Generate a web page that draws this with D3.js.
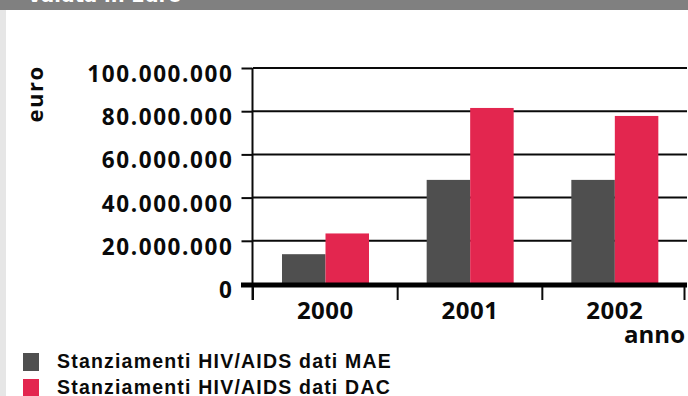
<!DOCTYPE html>
<html>
<head>
<meta charset="utf-8">
<script src="https://cdn.jsdelivr.net/npm/d3@7"></script>
<style>
  html, body { margin: 0; padding: 0; background: #fff; }
  svg { display: block; }
</style>
</head>
<body>
<script>
// ---- data ----
const years = ["2000", "2001", "2002"];
const seriesNames = ["Stanziamenti HIV/AIDS dati MAE", "Stanziamenti HIV/AIDS dati DAC"];
const maeValues = [13800000, 48200000, 48200000];
const dacValues = [23400000, 81500000, 77800000];
const yTicks = [0, 20000000, 40000000, 60000000, 80000000, 100000000];
const title = "Valuta in Euro";
const yTitle = "euro";
const xTitle = "anno";

// ---- layout ----
const W = 688, H = 396;
const colors = ["#4f4f4f", "#e3264f"];
const ink = "#0a0a0a";
const tickFont = "'Open Sans'";
const svg = d3.select("body").append("svg").attr("width", W).attr("height", H);

// background decoration
svg.append("rect").attr("x", 0).attr("y", 0).attr("width", W).attr("height", 10).attr("fill", "#808080");
svg.append("rect").attr("x", 0).attr("y", 10).attr("width", 6).attr("height", H - 10).attr("fill", "#e6e6e6");
svg.append("text").attr("x", 27).attr("y", 2).text(title)
  .attr("fill", "#fff").attr("font-family", "DejaVu Sans").attr("font-weight", "bold").attr("font-size", 19.5);

const x0 = 253, x1r = 687, yTop = 68, yBot = 284;
const x = d3.scaleBand().domain(years).range([x0, x1r]).padding(0);
const xs = d3.scaleBand().domain(seriesNames).range([29, 116]).padding(0);
const y = d3.scaleLinear().domain([0, 100000000]).range([yBot, yTop]);

const fmt = v => d3.format(",")(v).replace(/,/g, ".");

// gridlines
svg.append("g").selectAll("line").data(yTicks.filter(d => d > 0)).join("line")
  .attr("x1", x0).attr("x2", x1r)
  .attr("y1", d => y(d)).attr("y2", d => y(d))
  .attr("stroke", ink).attr("stroke-width", 2);

// bars
const data = years.map((yr, i) => ({ yr, vals: [maeValues[i], dacValues[i]] }));
const grp = svg.append("g").selectAll("g").data(data).join("g")
  .attr("transform", d => `translate(${x(d.yr)},0)`);
grp.selectAll("rect").data(d => d.vals.map((v, j) => ({ v, s: seriesNames[j], j }))).join("rect")
  .attr("x", d => xs(d.s)).attr("width", xs.bandwidth())
  .attr("y", d => y(d.v)).attr("height", d => y(0) - y(d.v))
  .attr("fill", d => colors[d.j]);

// y axis
const yAxis = d3.axisLeft(y).tickValues(yTicks).tickSize(11).tickFormat(fmt);
const gy = svg.append("g").attr("transform", `translate(${x0 - 0.5},0)`).call(yAxis);
gy.select(".domain").remove();
gy.selectAll(".tick line").attr("stroke", ink).attr("stroke-width", 2);
gy.selectAll(".tick text")
  .attr("x", -19).attr("dy", null).attr("y", 13.5)
  .attr("fill", ink).attr("font-family", tickFont).attr("font-weight", 700)
  .attr("font-size", 22.5).attr("letter-spacing", 1.6);
// y axis line
svg.append("line").attr("x1", x0 - 0.5).attr("x2", x0 - 0.5).attr("y1", yTop).attr("y2", 300)
  .attr("stroke", ink).attr("stroke-width", 2);

// zero baseline (thick)
svg.append("line").attr("x1", 241).attr("x2", x1r).attr("y1", y(0) + 1).attr("y2", y(0) + 1)
  .attr("stroke", "#000").attr("stroke-width", 5);

// x axis labels
const xAxis = d3.axisBottom(x).tickSize(0).tickPadding(0);
const gx = svg.append("g").attr("transform", `translate(0,${y(0)})`).call(xAxis);
gx.select(".domain").remove();
gx.selectAll(".tick text").attr("dy", null).attr("y", 35)
  .attr("fill", ink).attr("font-family", tickFont).attr("font-weight", 700)
  .attr("font-size", 24).attr("letter-spacing", 0.5);
// boundary ticks between categories
const bounds = years.map(d => x(d)).concat([x(years[years.length - 1]) + x.bandwidth() - 2.5]);
svg.append("g").selectAll("line").data(bounds).join("line")
  .attr("x1", d => d).attr("x2", d => d).attr("y1", y(0) + 3).attr("y2", 300)
  .attr("stroke", ink).attr("stroke-width", 2);

// axis titles
svg.append("text").attr("x", 685).attr("y", 343).attr("text-anchor", "end").text(xTitle)
  .attr("fill", ink).attr("font-family", tickFont).attr("font-weight", 700)
  .attr("font-size", 24);
svg.append("text").attr("transform", "translate(43,94) rotate(-90)").attr("text-anchor", "middle").text(yTitle)
  .attr("fill", ink).attr("font-family", tickFont).attr("font-weight", 700)
  .attr("font-size", 22).attr("letter-spacing", 1.5);

// legend
const lg = svg.append("g").selectAll("g").data(seriesNames).join("g")
  .attr("transform", (d, i) => `translate(0,${i * 26})`);
lg.append("rect").attr("x", 23).attr("y", 353).attr("width", 16).attr("height", 18)
  .attr("fill", (d, i) => colors[i]);
lg.append("text").attr("x", 57).attr("y", 367.5).text(d => d)
  .attr("fill", ink).attr("font-family", "'Liberation Sans'").attr("font-weight", "bold")
  .attr("font-size", 19.5).attr("letter-spacing", 1.2);
</script>
</body>
</html>
